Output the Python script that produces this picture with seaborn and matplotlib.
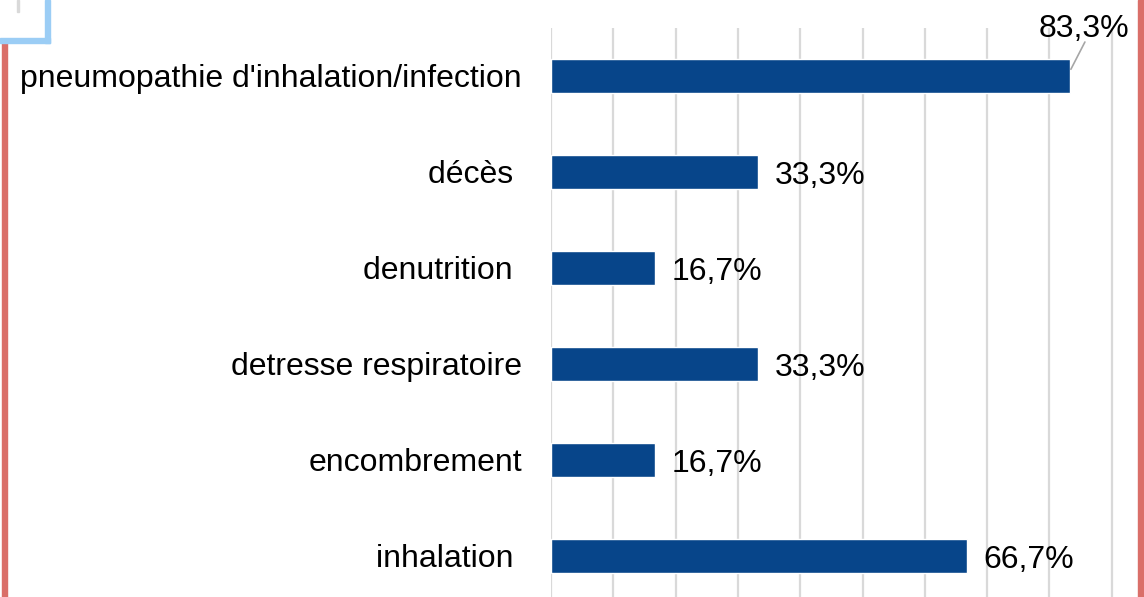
import pandas as pd
import matplotlib.pyplot as plt
import matplotlib.patches as mpatches
import seaborn as sns

# données
categories = ["pneumopathie d'inhalation/infection", "décès ", "denutrition ",
              "detresse respiratoire", "encombrement", "inhalation "]
values = [83.3, 33.3, 16.7, 33.3, 16.7, 66.7]
value_labels = ["83,3%", "33,3%", "16,7%", "33,3%", "16,7%", "66,7%"]

df = pd.DataFrame({"cat": categories, "val": values})

sns.set_style("white")
plt.rcParams['font.family'] = ['Liberation Sans', 'DejaVu Sans']
plt.rcParams['text.color'] = 'black'
plt.rcParams['ytick.color'] = 'black'

fig = plt.figure(figsize=(11.44, 5.97), dpi=100)
ax = fig.add_axes([551 / 1144, 0, (1138 - 551) / 1144, 1 - 28 / 597])

sns.barplot(data=df, x="val", y="cat", orient="h", color="#07458A",
            width=0.35, saturation=1, ax=ax, zorder=2)

ax.set_xlim(0, (1138 - 551) / 6.23)
ax.set_ylim(5.43, -0.5)
ax.set_xticks(range(0, 100, 10))
ax.xaxis.grid(True, color="#D9D9D9", linewidth=1.6, zorder=0)
ax.set_axisbelow(True)
ax.tick_params(axis="x", length=0, labelbottom=False)
ax.tick_params(axis="y", length=0, pad=20.9, labelsize=23, labelcolor="black")
ax.set_xlabel("")
ax.set_ylabel("")
for s in ax.spines.values():
    s.set_visible(False)

# étiquettes de valeur
for i, (v, lab) in enumerate(zip(values, value_labels)):
    if i == 0:
        ax.plot([v + 0.15, 85.7], [i - 0.07, i - 0.354], color="#A6A6A6",
                lw=1.2, clip_on=False, zorder=3)
        ax.text(85.6, i - 0.53, lab, ha="center", va="center_baseline",
                fontsize=23, clip_on=False)
    else:
        ax.text(v + 2.7, i + 0.01, lab, ha="left", va="center_baseline",
                fontsize=23)

# bordures de la capture
fig.patches.append(mpatches.Rectangle((2 / 1144, 0), 5 / 1144, 1 - 43 / 597,
                                      transform=fig.transFigure, color="#DA6F69", zorder=5))
fig.patches.append(mpatches.Rectangle((1138 / 1144, 0), 6 / 1144, 1,
                                      transform=fig.transFigure, color="#DA6F69", zorder=5))
fig.patches.append(mpatches.Rectangle((45 / 1144, 1 - 43 / 597), 5 / 1144, 43 / 597,
                                      transform=fig.transFigure, color="#9BCDF5", zorder=5))
fig.patches.append(mpatches.Rectangle((0, 1 - 43 / 597), 50 / 1144, 5 / 597,
                                      transform=fig.transFigure, color="#9BCDF5", zorder=5))
fig.patches.append(mpatches.Rectangle((17 / 1144, 1 - 12 / 597), 2 / 1144, 12 / 597,
                                      transform=fig.transFigure, color="#D9D9D9", zorder=5))

fig.savefig("out.png", dpi=100)
